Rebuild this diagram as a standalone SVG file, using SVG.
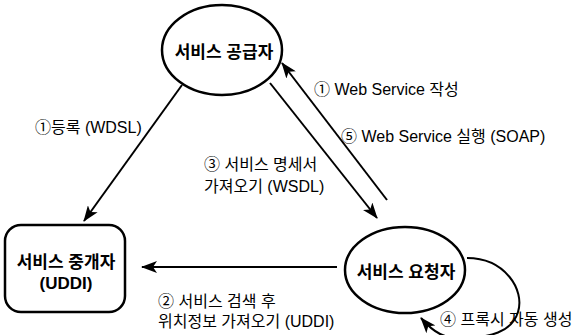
<svg xmlns="http://www.w3.org/2000/svg" width="581" height="335" viewBox="0 0 581 335">
<style>
.node{fill:#fff;stroke:#000;stroke-width:2.5}
.nt{font-family:"Liberation Sans","Noto Sans CJK KR",sans-serif;font-size:17px;font-weight:bold;text-anchor:middle;fill:#000}
.lb{font-family:"Liberation Sans","Noto Sans CJK KR",sans-serif;font-size:16px;fill:#000}
.ln{fill:none;stroke:#000;stroke-width:2;marker-end:url(#ah)}
</style>
<defs>
<marker id="ah" viewBox="0 0 16 12" refX="15" refY="6" markerWidth="16" markerHeight="12" markerUnits="userSpaceOnUse" orient="auto">
<path d="M0,0 L16,6 L0,12 L4,6 z" fill="#000"/>
</marker>
</defs>
<rect width="581" height="335" fill="#fff"/>
<g id="connectors">
<path class="ln" d="M182,85 L84,221"/>
<path class="ln" d="M387,200 L282,63"/>
<path class="ln" d="M270,83 L377,218"/>
<path class="ln" d="M337,267 L142,267"/>
<path class="ln" d="M467,258 C505,258 525,290 518,312 C512,332 490,338 460,338 C445,338 435,334 421,318"/>
</g>
<g id="provider">
<ellipse class="node" cx="222" cy="50" rx="60" ry="45"/>
<text class="nt" x="224" y="58">서비스 공급자</text>
</g>
<g id="requester">
<ellipse class="node" cx="405" cy="270" rx="60" ry="43"/>
<text class="nt" x="406" y="278">서비스 요청자</text>
</g>
<g id="broker">
<rect class="node" x="5" y="225" width="120" height="87" rx="16"/>
<text class="nt" x="66" y="268">서비스 중개자</text>
<text class="nt" x="66" y="289">(UDDI)</text>
</g>
<g id="labels">
<text class="lb" x="314" y="95">① Web Service 작성</text>
<text class="lb" x="341" y="142">⑤ Web Service 실행 (SOAP)</text>
<text class="lb" x="35" y="133">①등록 (WDSL)</text>
<text class="lb" x="204" y="170">③ 서비스 명세서</text>
<text class="lb" x="204" y="192">가져오기 (WSDL)</text>
<text class="lb" x="158" y="307">② 서비스 검색 후</text>
<text class="lb" x="158" y="327">위치정보 가져오기 (UDDI)</text>
<text class="lb" x="440" y="325">④ 프록시 자동 생성</text>
</g>
</svg>
